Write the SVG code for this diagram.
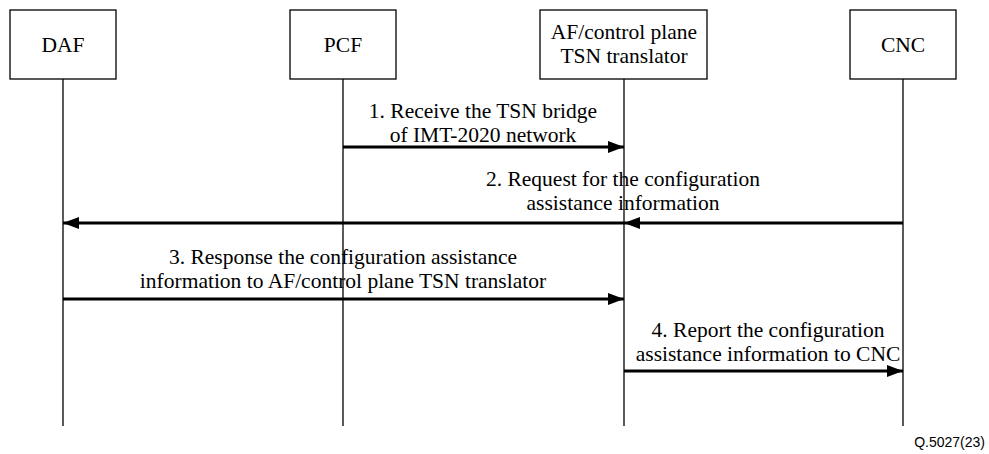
<svg xmlns="http://www.w3.org/2000/svg" width="989" height="454" viewBox="0 0 989 454">
  <style>
    .box { fill: #ffffff; stroke: #000000; stroke-width: 1.3; }
    .life { stroke: #000000; stroke-width: 1.3; fill: none; }
    .msg { stroke: #000000; stroke-width: 3; fill: none; }
    .t { font-family: "Liberation Serif", "Times New Roman", serif; font-size: 21.5px; fill: #000000; text-anchor: middle; }
    .ref { font-family: "Liberation Sans", Arial, sans-serif; font-size: 14px; fill: #000000; text-anchor: end; }
  </style>
  <defs>
    <marker id="arrow" viewBox="0 0 16 12" refX="16" refY="6" markerWidth="16" markerHeight="12" markerUnits="userSpaceOnUse" orient="auto">
      <path d="M0,0 L16,6 L0,12 Z" fill="#000000"/>
    </marker>
  </defs>

  <rect width="989" height="454" fill="#ffffff"/>

  <!-- lifelines -->
  <g id="lifelines">
    <line class="life" x1="63" y1="79" x2="63" y2="426"/>
    <line class="life" x1="343" y1="79" x2="343" y2="426"/>
    <line class="life" x1="624" y1="79" x2="624" y2="426"/>
    <line class="life" x1="903" y1="79" x2="903" y2="426"/>
  </g>

  <g id="daf">
    <rect class="box" x="10" y="10" width="106" height="69"/>
    <text class="t" x="63" y="52">DAF</text>
  </g>
  <g id="pcf">
    <rect class="box" x="290" y="10" width="106" height="69"/>
    <text class="t" x="343" y="52">PCF</text>
  </g>
  <g id="af">
    <rect class="box" x="540" y="10" width="167" height="69"/>
    <text class="t" x="624" y="39">AF/control plane</text>
    <text class="t" x="624" y="63">TSN translator</text>
  </g>
  <g id="cnc">
    <rect class="box" x="850" y="10" width="106" height="69"/>
    <text class="t" x="903" y="52">CNC</text>
  </g>

  <g id="connectors">
    <line class="msg" x1="343" y1="147" x2="624" y2="147" marker-end="url(#arrow)"/>
    <line class="msg" x1="903" y1="223" x2="624" y2="223" marker-end="url(#arrow)"/>
    <line class="msg" x1="624" y1="223" x2="63" y2="223" marker-end="url(#arrow)"/>
    <line class="msg" x1="63" y1="299" x2="624" y2="299" marker-end="url(#arrow)"/>
    <line class="msg" x1="624" y1="371" x2="903" y2="371" marker-end="url(#arrow)"/>
  </g>

  <g id="labels">
    <text class="t" x="483" y="118">1. Receive the TSN bridge</text>
    <text class="t" x="483" y="142">of IMT-2020 network</text>
    <text class="t" x="623" y="186">2. Request for the configuration</text>
    <text class="t" x="623" y="210">assistance information</text>
    <text class="t" x="343" y="264">3. Response the configuration assistance</text>
    <text class="t" x="343" y="288">information to AF/control plane TSN translator</text>
    <text class="t" x="768" y="337">4. Report the configuration</text>
    <text class="t" x="768" y="361">assistance information to CNC</text>
  </g>

  <text class="ref" x="985" y="447">Q.5027(23)</text>
</svg>
